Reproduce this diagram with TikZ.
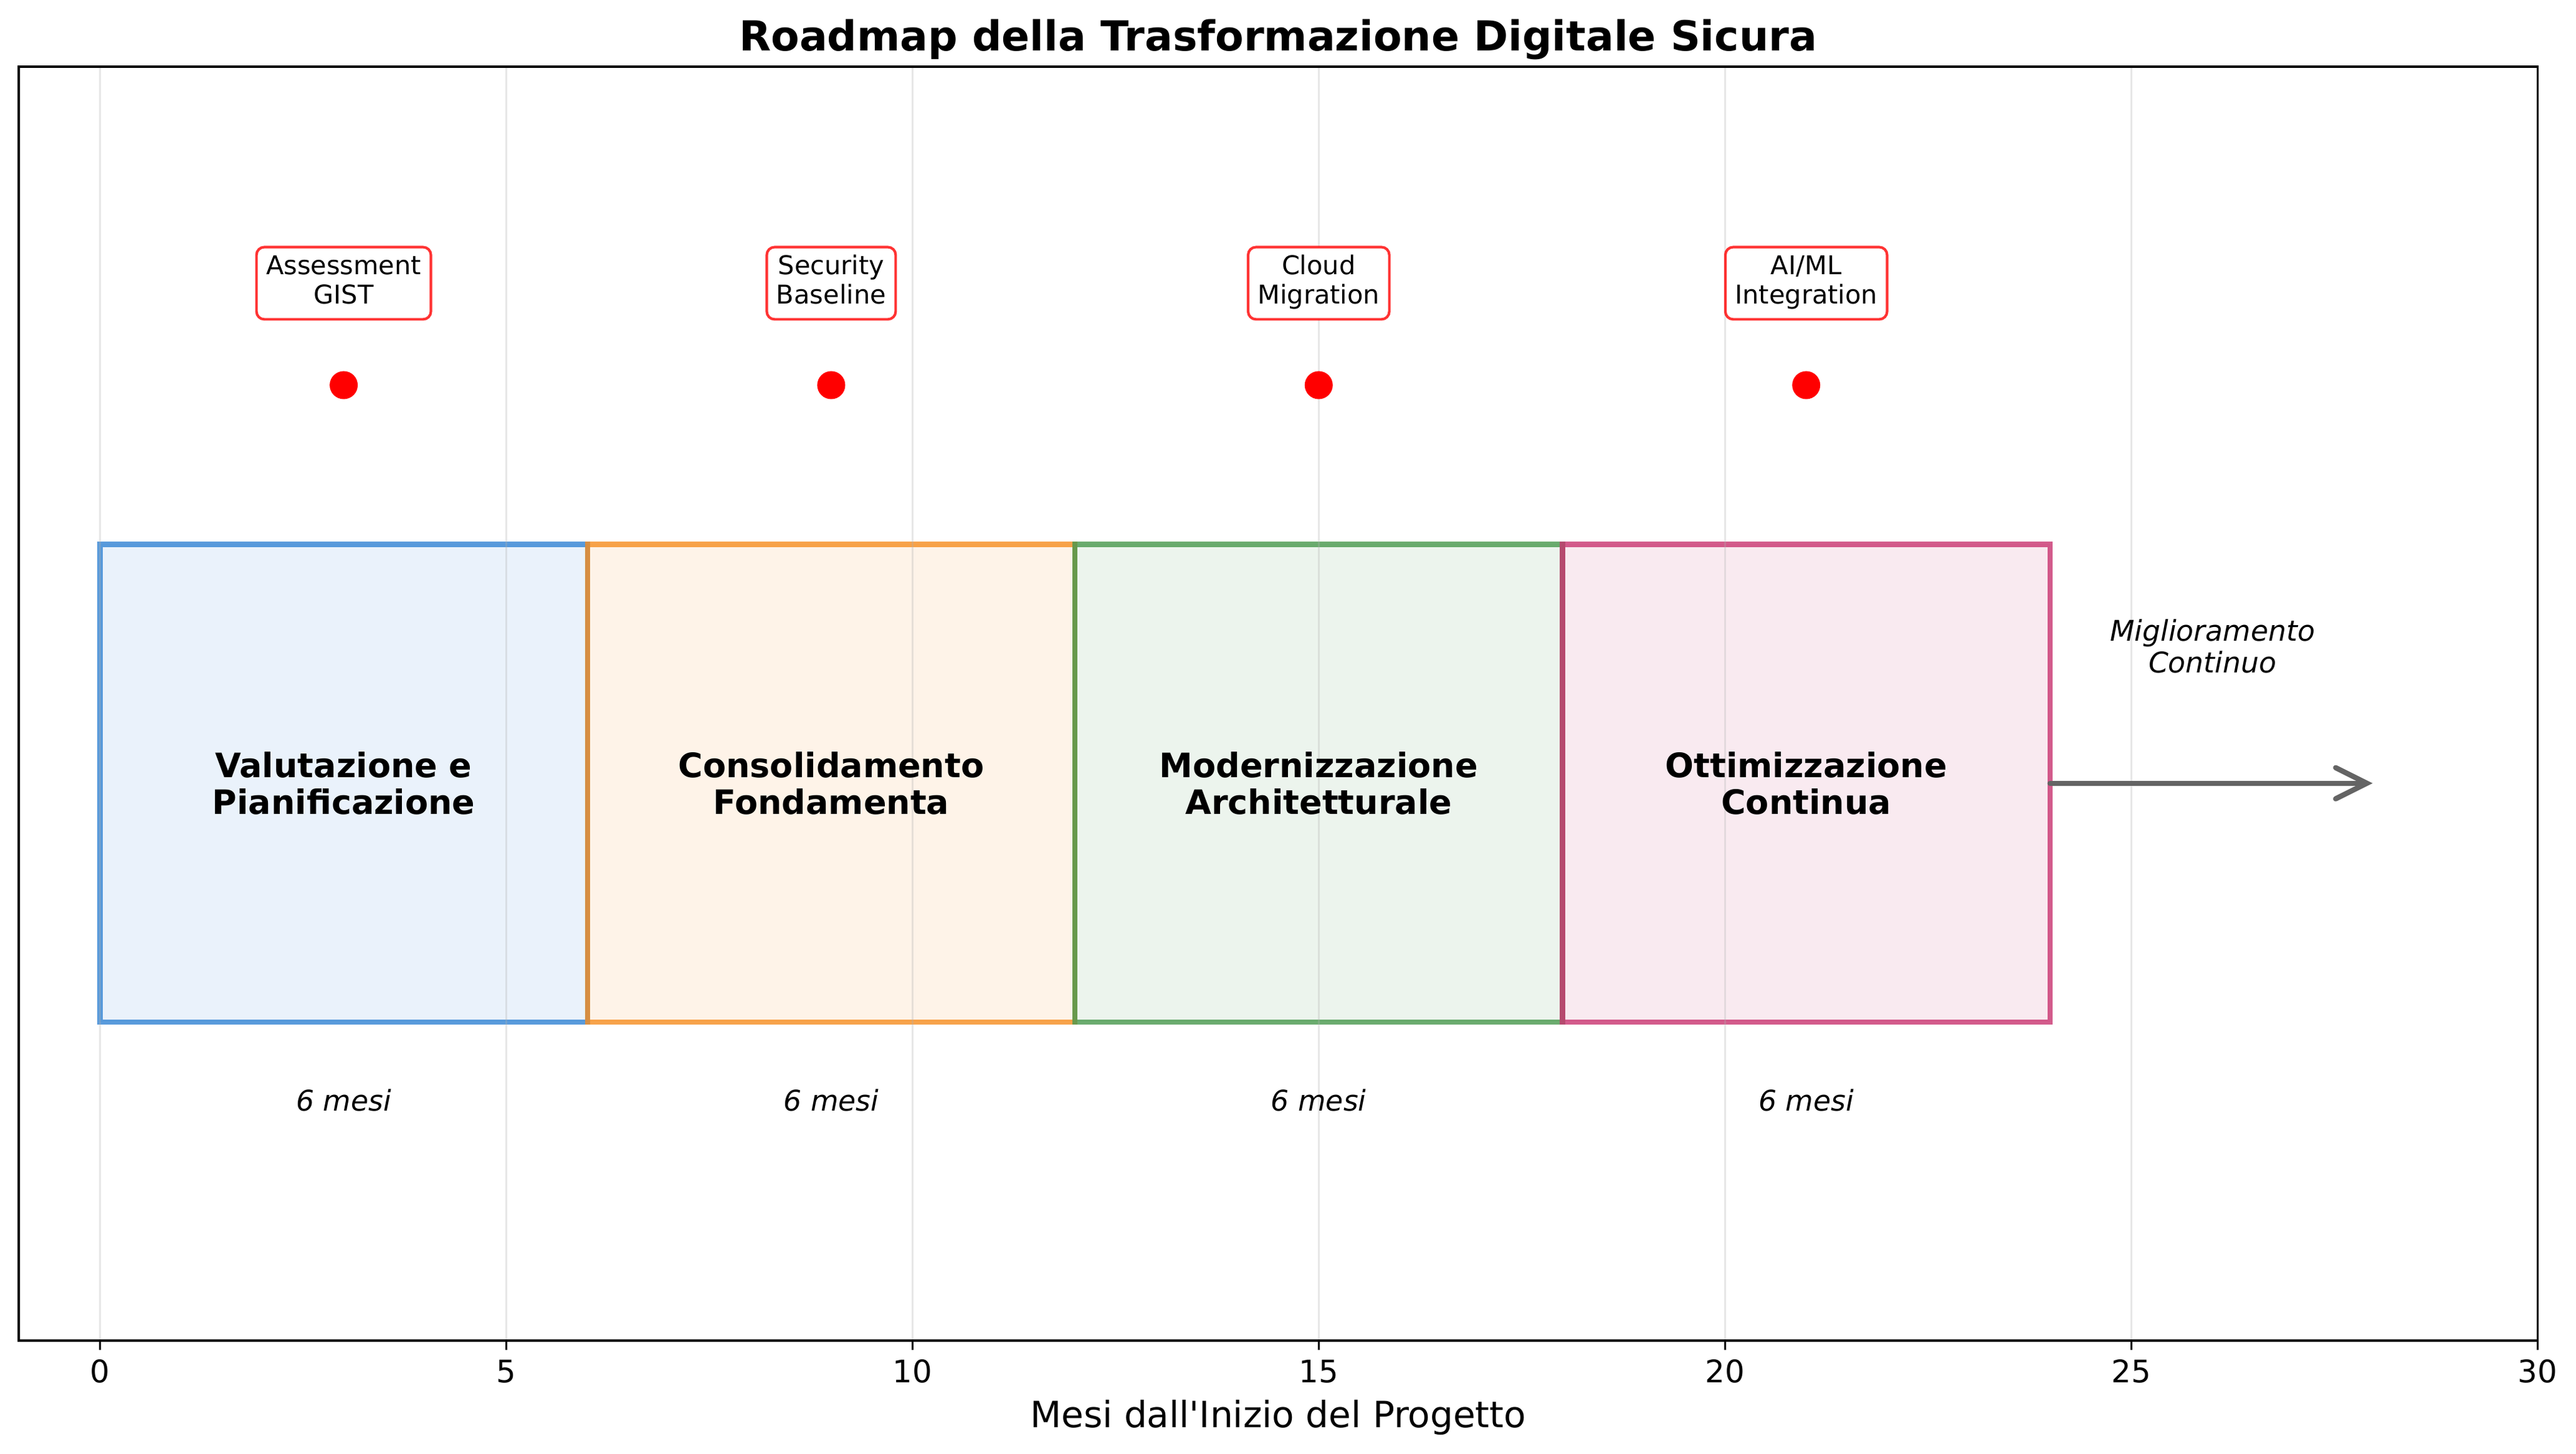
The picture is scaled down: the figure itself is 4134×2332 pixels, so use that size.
\documentclass[tikz,border=0pt]{standalone}
\usepackage{fontspec}
\setmainfont{DejaVu Sans}[Ligatures=TeXOff,ItalicFont={DejaVu Sans Oblique},BoldFont={DejaVu Sans Bold}]
\usetikzlibrary{arrows.meta}
\definecolor{cblue}{RGB}{49,130,211}
\definecolor{corange}{RGB}{245,140,31}
\definecolor{cgreen}{RGB}{71,151,76}
\definecolor{cpink}{RGB}{200,51,111}
\definecolor{gridgray}{RGB}{176,176,176}
\definecolor{arrowgray}{RGB}{100,100,100}
\begin{document}
\begin{tikzpicture}[x=0.24bp,y=-0.24bp,
  phase/.style={line width=2pt,draw opacity=0.8,fill opacity=0.1},
  plabel/.style={font=\fontsize{13}{14.2}\selectfont\bfseries,align=center,inner sep=0pt},
  mbox/.style={draw=red,draw opacity=0.8,line width=1pt,fill=white,rounded corners=3bp,
    align=center,font=\fontsize{10}{11.4}\selectfont,inner xsep=3.7bp,inner ysep=0pt,minimum height=27.8bp},
  mdot/.style={circle,fill=red,inner sep=0pt,minimum size=10.8bp},
  dur/.style={font=\fontsize{11}{12.4}\selectfont\itshape,anchor=base,inner sep=0pt},
  ticklab/.style={font=\fontsize{12}{14}\selectfont,anchor=base,inner sep=0pt},
  gridline/.style={draw=gridgray,draw opacity=0.3,line width=0.8pt},
  spine/.style={draw=black,line width=0.8pt},
  flow/.style={draw=arrowgray,line width=2pt,line cap=round,-{Straight Barb[length=12bp,width=12bp,line cap=round]}}
]
\useasboundingbox (0,0) rectangle (4134,2332);
\begin{scope}[shift={(160.39,1640)},x=31.293bp,y=122.64bp]
  % phases
  \path[phase,draw=cblue,fill=cblue] (0,0) rectangle (6,1.5);
  \path[phase,draw=corange,fill=corange] (6,0) rectangle (12,1.5);
  \path[phase,draw=cgreen,fill=cgreen] (12,0) rectangle (18,1.5);
  \path[phase,draw=cpink,fill=cpink] (18,0) rectangle (24,1.5);
  % grid
  \foreach \k in {0,5,...,30} {\draw[gridline] (\k,-1) -- (\k,3);}
  % frame and ticks
  \draw[spine] (-1,-1) rectangle (30,3);
  \foreach \k in {0,5,...,30} {
    \draw[spine] (\k,-1) -- ++(0pt,-3.5pt);
    \node[ticklab] (t\k) at (\k,-1.131) {\k};
  }
  \node[font=\fontsize{14}{16}\selectfont,anchor=base,inner sep=0pt] (xl) at (14.5,-1.272) {Mesi dall'Inizio del Progetto};
  \node[font=\fontsize{16}{19}\selectfont\bfseries,anchor=base,inner sep=0pt] (title) at (14.5,3.049) {Roadmap della Trasformazione Digitale Sicura};
  % phase labels
  \node[plabel] (p1) at (3,0.75) {Valutazione e\\Pianificazione};
  \node[plabel] (p2) at (9,0.75) {Consolidamento\\Fondamenta};
  \node[plabel] (p3) at (15,0.75) {Modernizzazione\\Architetturale};
  \node[plabel] (p4) at (21,0.75) {Ottimizzazione\\Continua};
  % durations
  \node[dur] (d1) at (3,-0.278) {6 mesi};
  \node[dur] (d2) at (9,-0.278) {6 mesi};
  \node[dur] (d3) at (15,-0.278) {6 mesi};
  \node[dur] (d4) at (21,-0.278) {6 mesi};
  % milestones
  \node[mdot] (m1) at (3,2) {};
  \node[mdot] (m2) at (9,2) {};
  \node[mdot] (m3) at (15,2) {};
  \node[mdot] (m4) at (21,2) {};
  \node[mbox] (ml1) at (3,2.32) {\strut Assessment\\\strut GIST};
  \node[mbox] (ml2) at (9,2.32) {\strut Security\\\strut Baseline};
  \node[mbox] (ml3) at (15,2.32) {\strut Cloud\\\strut Migration};
  \node[mbox] (ml4) at (21,2.32) {\strut AI/ML\\\strut Integration};
  % continuous improvement
  \coordinate (b4e) at (24,0.75);
  \coordinate (ae) at (27.97,0.75);
  \draw[flow] (b4e) -- (ae);
  \node[font=\fontsize{11}{12.4}\selectfont\itshape,align=center,inner sep=0pt] (ci) at (26,1.18) {Miglioramento\\Continuo};
\end{scope}
\end{tikzpicture}
\end{document}
